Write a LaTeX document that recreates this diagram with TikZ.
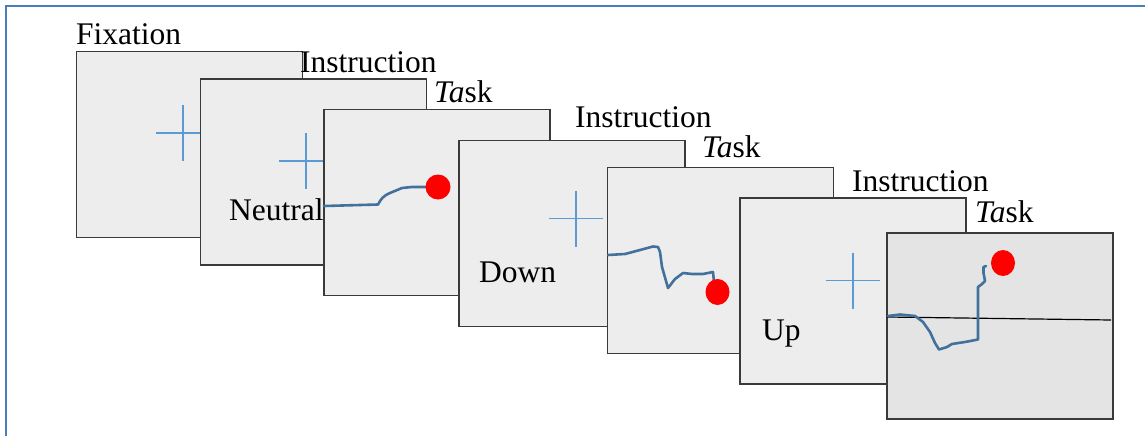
\documentclass[tikz,border=0pt]{standalone}
\usepackage{fontspec}
\setmainfont{Liberation Serif}
\newfontfamily\labelfont{Liberation Serif}
\definecolor{framecol}{HTML}{4A7EBB}
\definecolor{panelfill}{HTML}{EDEDED}
\definecolor{panelfilldark}{HTML}{E4E4E4}
\definecolor{panelline}{HTML}{3A3A3A}
\definecolor{crosscol}{HTML}{5B9BD5}
\definecolor{pathcol}{HTML}{41719C}
\begin{document}
\begin{tikzpicture}[x=1pt,y=-1pt,
  panel/.style={draw=panelline, line width=1.1pt, fill=panelfill, anchor=north west,
    minimum width=226pt, minimum height=186pt, inner sep=0pt, outer sep=0pt},
  lbl/.style={anchor=base west, inner sep=0pt, font=\labelfont\fontsize{31.5}{36}\selectfont},
  crossline/.style={draw=crosscol, line width=1.9pt},
  trace/.style={draw=pathcol, line width=2.6pt, line join=round, line cap=round},
  target/.style={fill=red},
  fixcross/.pic={\draw[crossline] (-27,0) -- (27,0) (0,-28) -- (0,28);}
]
\useasboundingbox (0,0) rectangle (1145,436);
\fill[white] (0,0) rectangle (1145,436);
% outer frame (open to the right and bottom)
\draw[framecol, line width=2.2pt] (6,440) -- (6,6) -- (1150,6);

% fixation screen
\node[panel] (p1) at (76.5,51.5) {};
\pic at (183,133) {fixcross};
\node[lbl] (l1) at (76,45) {Fixation};

% neutral instruction
\node[panel] (p2) at (200.5,79) {};
\pic at (306,161) {fixcross};
\node[lbl] (w2) at (229,220.5) {Neutral};
\node[lbl] (l2) at (300,72) {Instruction};

% neutral task
\node[panel] (p3) at (324,109.5) {};
\draw[trace] (324,206) -- (378,204.5) .. controls (381,199) and (383,196) .. (390,193)
  -- (402,188) -- (412,187) -- (428,187);
\fill[target] (438,187) ellipse (12.5 and 12.5);
\node[lbl] (l3) at (434,102) {\textit{Ta}sk};

% down instruction
\node[panel] (p4) at (459,140.5) {};
\pic at (576,218.5) {fixcross};
\node[lbl] (w4) at (479,282) {Down};
\node[lbl] (l4) at (575,127) {Instruction};

% down task
\node[panel] (p5) at (607.5,167.5) {};
\draw[trace] (608,255) -- (625,254) -- (640,250) -- (653,246.5) -- (658,247) -- (660,252)
  -- (662,267) -- (668,288) -- (675,279) -- (683,273) -- (692,274) -- (703,274)
  -- (713,272) -- (714,282);
\fill[target] (717.5,292) ellipse (12 and 13);
\node[lbl] (l5) at (702,157) {\textit{Ta}sk};

% up instruction
\node[panel] (p6) at (740,198) {};
\pic at (853,280.5) {fixcross};
\node[lbl] (w6) at (762,340) {Up};
\node[lbl] (l6) at (852,191) {Instruction};

% up task with reference line
\node[panel, fill=panelfilldark] (p7) at (887,233) {};
\draw[black, line width=1.2pt] (887,317) -- (1111,320);
\draw[trace] (888,316) -- (900,314.5) -- (915,316) -- (923,322) -- (930,332) -- (935,343)
  -- (939,349.5) -- (947,347) -- (952,344) -- (965,342) -- (978,339.5) -- (978,287)
  -- (982,284) -- (985,281) -- (983.5,273) -- (983.5,267) -- (986,266);
\fill[target] (1003,263) ellipse (12 and 13);
\node[lbl] (l7) at (975,222) {\textit{Ta}sk};
\end{tikzpicture}
\end{document}
